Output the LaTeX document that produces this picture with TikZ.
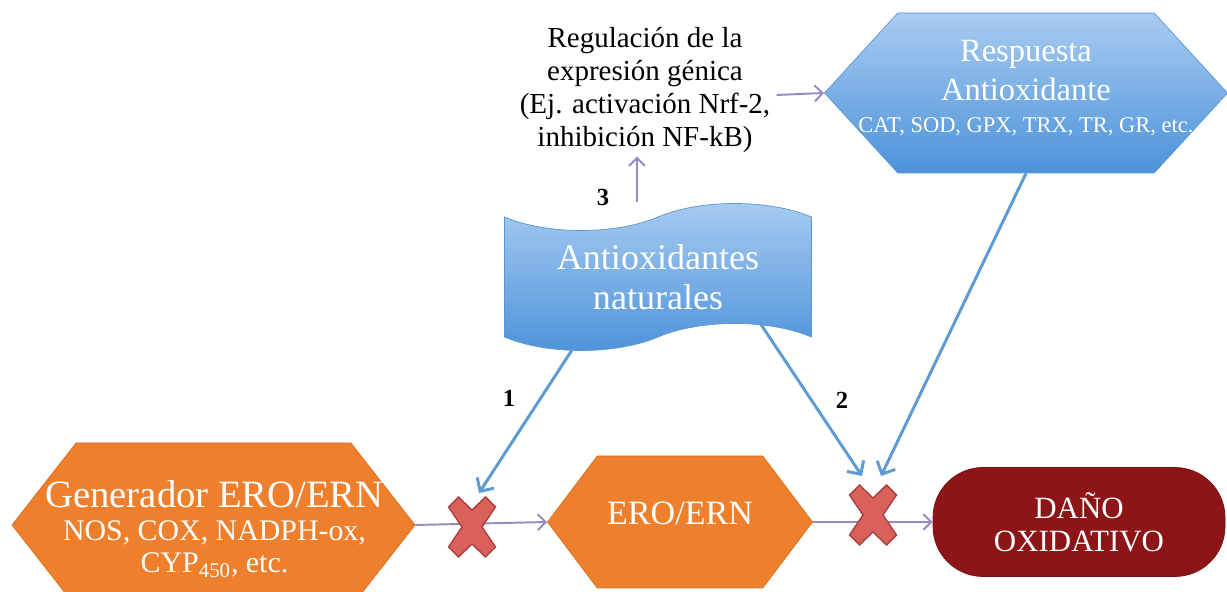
\documentclass[tikz,border=0pt]{standalone}
\usepackage{fontspec}
\setmainfont{Liberation Serif}
\usetikzlibrary{shapes.symbols, shapes.geometric, arrows.meta, positioning, calc}
\usepackage{xcolor}
\definecolor{SchemeOrange}{HTML}{EE7F2D}
\definecolor{SchemeOrangeEdge}{HTML}{D8701F}
\definecolor{SchemeBlueTop}{HTML}{A9CCF1}
\definecolor{SchemeBlueBottom}{HTML}{4C92DA}
\definecolor{SchemeBlueEdge}{HTML}{5A97D2}
\definecolor{SchemeArrowBlue}{HTML}{5E9BD3}
\definecolor{SchemePurple}{HTML}{9A88C2}
\definecolor{SchemeDarkRed}{HTML}{8E1517}
\definecolor{SchemeCross}{HTML}{D9605B}
\definecolor{SchemeCrossEdge}{HTML}{A8413F}
\newcommand{\genlist}{\fontsize{17}{18.5}\selectfont}
\newcommand{\enzlist}{\fontsize{12.8}{15}\selectfont}
\tikzset{
    % Box styles
    generator/.style={
        signal,
        signal to=east and west,
        signal pointer angle=104,
        fill=SchemeOrange,
        draw=SchemeOrangeEdge,
        line width=0.4pt,
        minimum width=8.06cm,
        minimum height=3.28cm,
        inner sep=0pt
    },
    species/.style={
        signal,
        signal to=east and west,
        signal pointer angle=106,
        fill=SchemeOrange,
        draw=SchemeOrangeEdge,
        line width=0.4pt,
        minimum width=5.3cm,
        minimum height=2.64cm,
        inner sep=0pt,
        align=center,
        text=white,
        font=\fontsize{19.4}{22}\selectfont
    },
    response/.style={
        signal,
        signal to=east and west,
        signal pointer angle=95,
        top color=SchemeBlueTop,
        bottom color=SchemeBlueBottom,
        draw=SchemeBlueEdge,
        line width=0.4pt,
        minimum width=8.06cm,
        minimum height=3.2cm,
        inner sep=0pt
    },
    natural/.style={
        tape,
        tape bend height=0.54cm,
        top color=SchemeBlueTop,
        bottom color=SchemeBlueBottom,
        draw=SchemeBlueEdge,
        line width=0.4pt,
        minimum width=6.14cm,
        minimum height=2.94cm,
        inner sep=0pt,
        align=center,
        text=white,
        font=\fontsize{20.5}{23}\selectfont
    },
    damage/.style={
        rectangle,
        rounded corners=1cm,
        fill=SchemeDarkRed,
        draw=SchemeDarkRed!80!black,
        line width=0.4pt,
        minimum width=5.84cm,
        minimum height=2.18cm,
        align=center,
        text=white,
        font=\fontsize{17.6}{19}\selectfont
    },
    shapetext/.style={
        align=center,
        inner sep=0pt,
        text=white
    },
    regtext/.style={
        align=center,
        inner sep=2pt,
        font=\fontsize{16.5}{18.8}\selectfont
    },
    steplabel/.style={
        font=\fontsize{14}{16}\selectfont\bfseries
    },
    % Arrow styles
    flowarrow/.style={
        -{Straight Barb[length=1.6mm,width=3.2mm]},
        line width=1.1pt,
        draw=SchemePurple
    },
    actarrow/.style={
        -{Straight Barb[length=2mm,width=4mm]},
        line width=1.7pt,
        draw=SchemeArrowBlue
    },
    % Blocking mark
    blockmark/.pic={
        \filldraw[fill=SchemeCross, draw=SchemeCrossEdge, line width=0.8pt]
            (-0.47,0.4) -- (-0.27,0.6) -- (0,0.34) -- (0.27,0.6) -- (0.47,0.4)
            -- (0.2,0) -- (0.47,-0.4) -- (0.27,-0.6) -- (0,-0.34) -- (-0.27,-0.6)
            -- (-0.47,-0.4) -- (-0.2,0) -- cycle;
    }
}

\begin{document}
\begin{tikzpicture}
    \clip (0,0) rectangle (24.54,11.84);

    \node[generator] (gen) at (4.27,1.34) {};
    \node[shapetext, font=\fontsize{22}{18.5}\selectfont] (gentext) at ($(gen.center)+(0.02,-0.08)$)
        {Generador ERO/ERN\\ {\genlist NOS, COX, NADPH-ox,}\\ {\genlist CYP\textsubscript{450}, etc.}};
    \node[species, text depth=0.35cm] (ero) at (13.6,1.4) {ERO/ERN};
    \node[damage] (dano) at (21.58,1.4) {DAÑO\\OXIDATIVO};
    \node[natural] (antiox) at (13.16,6.3) {Antioxidantes\\naturales};
    \node[response] (resp) at (20.52,9.98) {};
    \node[shapetext, font=\fontsize{18.5}{21}\selectfont] (resptext) at ($(resp.center)+(0,0.1)$)
        {Respuesta\\[1pt] Antioxidante\\[-3pt] {\enzlist CAT, SOD, GPX, TRX, TR, GR, etc.}};
    \node[regtext] (reg) at (12.9,10.04) {Regulación de la\\expresión génica\\(Ej. activación Nrf-2,\\inhibición NF-kB)};

    \coordinate (x1) at (9.44,1.3);
    \coordinate (x2) at (17.46,1.54);

    % main chain
    \draw[flowarrow] (gen.east) -- (ero.west);
    \draw[flowarrow] (ero.east) -- (dano.west);
    \draw[flowarrow] ($(reg.east)+(0.05,-0.1)$) -- (resp.west);
    \draw[flowarrow] ($(antiox.center)+(-0.42,1.5)$) coordinate (a3) -- (a3 |- reg.south);

    % actions of the antioxidants
    \draw[actarrow] ($(antiox.center)+(-1.72,-1.46)$) -- ($(x1)+(0.14,0.68)$);
    \draw[actarrow] ($(antiox.center)+(2.04,-0.92)$) -- ($(x2)+(-0.22,0.78)$);
    \draw[actarrow] (resp.south) -- ($(x2)+(0.16,0.78)$);

    \pic at (x1) {blockmark};
    \pic at (x2) {blockmark};

    \node[steplabel] (l1) at (10.18,3.88) {1};
    \node[steplabel] (l2) at (16.84,3.84) {2};
    \node[steplabel] (l3) at (12.06,7.9) {3};
\end{tikzpicture}
\end{document}
